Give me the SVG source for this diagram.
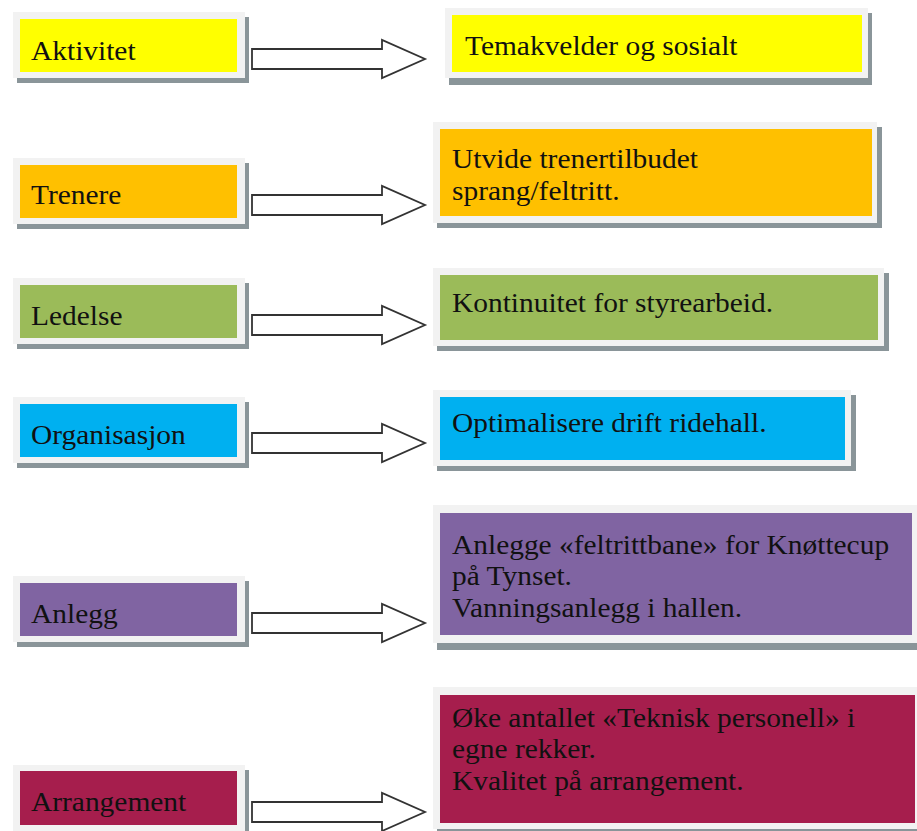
<svg xmlns="http://www.w3.org/2000/svg" width="917" height="831" viewBox="0 0 917 831">
<style>
.frame{fill:#f2f2f2}
.shadow{fill:#8a9599}
.t{font-family:"Liberation Serif","Times New Roman",serif;font-size:27px;fill:#111}
.arrow{fill:#ffffff;stroke:#333333;stroke-width:1.8;stroke-linejoin:miter}
</style>
<defs>
<path id="arr" d="M252,-10 H382 V-19 L425,0 L382,19 V10 H252 Z"/>
</defs>
<rect width="917" height="831" fill="#ffffff"/>

<g id="left-aktivitet">
<rect class="shadow" x="17" y="17" width="232" height="66"/>
<rect class="frame" x="13" y="12" width="232" height="66"/>
<rect x="20" y="19" width="217" height="53" fill="#ffff00"/>
<text class="t" transform="translate(31,60) scale(1.09,1)">Aktivitet</text>
</g>
<g id="left-trenere">
<rect class="shadow" x="17" y="163" width="232" height="66"/>
<rect class="frame" x="13" y="158" width="232" height="66"/>
<rect x="20" y="165" width="217" height="53" fill="#ffc000"/>
<text class="t" transform="translate(31,204) scale(1.09,1)">Trenere</text>
</g>
<g id="left-ledelse">
<rect class="shadow" x="17" y="283" width="232" height="66"/>
<rect class="frame" x="13" y="278" width="232" height="66"/>
<rect x="20" y="285" width="217" height="53" fill="#9bbb59"/>
<text class="t" transform="translate(31,325) scale(1.09,1)">Ledelse</text>
</g>
<g id="left-organisasjon">
<rect class="shadow" x="17" y="402" width="232" height="66"/>
<rect class="frame" x="13" y="397" width="232" height="66"/>
<rect x="20" y="404" width="217" height="53" fill="#00b0f0"/>
<text class="t" transform="translate(31,444) scale(1.09,1)">Organisasjon</text>
</g>
<g id="left-anlegg">
<rect class="shadow" x="17" y="581" width="232" height="66"/>
<rect class="frame" x="13" y="576" width="232" height="66"/>
<rect x="20" y="583" width="217" height="53" fill="#8064a2"/>
<text class="t" transform="translate(31,623) scale(1.09,1)">Anlegg</text>
</g>
<g id="left-arrangement">
<rect class="shadow" x="17" y="770" width="232" height="66"/>
<rect class="frame" x="13" y="765" width="232" height="66"/>
<rect x="20" y="771" width="217" height="54" fill="#a61e4d"/>
<text class="t" transform="translate(31,811) scale(1.09,1)">Arrangement</text>
</g>

<g id="connectors">
<use href="#arr" class="arrow" transform="translate(0,59)"/>
<use href="#arr" class="arrow" transform="translate(0,205)"/>
<use href="#arr" class="arrow" transform="translate(0,325)"/>
<use href="#arr" class="arrow" transform="translate(0,443)"/>
<use href="#arr" class="arrow" transform="translate(0,623)"/>
<use href="#arr" class="arrow" transform="translate(0,812)"/>
</g>

<g id="right-temakvelder">
<rect class="shadow" x="449" y="13" width="423" height="72"/>
<rect class="frame" x="445" y="8" width="423" height="70"/>
<rect x="452" y="15" width="410" height="57" fill="#ffff00"/>
<text class="t" transform="translate(465,55) scale(1.09,1)">Temakvelder og sosialt</text>
</g>
<g id="right-utvide">
<rect class="shadow" x="437" y="127" width="445" height="101"/>
<rect class="frame" x="433" y="122" width="444" height="101"/>
<rect x="440" y="129" width="432" height="87" fill="#ffc000"/>
<text class="t" transform="translate(452,168) scale(1.09,1)"><tspan x="0" y="0">Utvide trenertilbudet</tspan><tspan x="0" y="32">sprang/feltritt.</tspan></text>
</g>
<g id="right-kontinuitet">
<rect class="shadow" x="437" y="273" width="452" height="78"/>
<rect class="frame" x="433" y="268" width="451" height="78"/>
<rect x="440" y="275" width="438" height="65" fill="#9bbb59"/>
<text class="t" transform="translate(452,312) scale(1.09,1)">Kontinuitet for styrearbeid.</text>
</g>
<g id="right-optimalisere">
<rect class="shadow" x="437" y="395" width="419" height="76"/>
<rect class="frame" x="433" y="390" width="418" height="76"/>
<rect x="440" y="397" width="405" height="63" fill="#00b0f0"/>
<text class="t" transform="translate(452,432) scale(1.09,1)">Optimalisere drift ridehall.</text>
</g>
<g id="right-anlegge">
<rect class="shadow" x="437" y="510" width="490" height="140"/>
<rect class="frame" x="433" y="505" width="490" height="138"/>
<rect x="440" y="513" width="472" height="122" fill="#8064a2"/>
<text class="t" transform="translate(452,554) scale(1.09,1)"><tspan x="0" y="0">Anlegge «feltrittbane» for Knøttecup</tspan><tspan x="0" y="31.5">på Tynset.</tspan><tspan x="0" y="63">Vanningsanlegg i hallen.</tspan></text>
</g>
<g id="right-oke">
<rect class="shadow" x="437" y="692" width="490" height="142"/>
<rect class="frame" x="433" y="687" width="490" height="142"/>
<rect x="440" y="695" width="475" height="128" fill="#a61e4d"/>
<text class="t" transform="translate(452,727) scale(1.09,1)"><tspan x="0" y="0">Øke antallet «Teknisk personell» i</tspan><tspan x="0" y="31.5">egne rekker.</tspan><tspan x="0" y="63">Kvalitet på arrangement.</tspan></text>
</g>
</svg>
